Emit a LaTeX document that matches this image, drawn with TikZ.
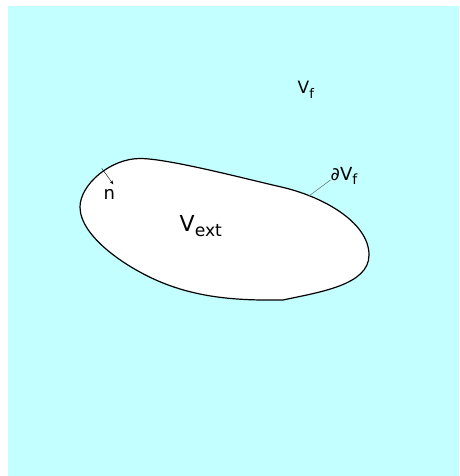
\documentclass[tikz,border=0pt]{standalone}
\usepackage{fontspec}
\setmainfont{DejaVu Sans}
\usetikzlibrary{arrows.meta}
\definecolor{fluid}{RGB}{196,255,255}
\newcommand{\subtxt}[1]{\raisebox{-0.25em}{\scalebox{0.78}{#1}}}

\begin{document}
\begin{tikzpicture}[x=1pt, y=-1pt,
    labeltext/.style={inner sep=0pt, anchor=base west},
    boundary/.style={line width=1.2pt, fill=white, line join=round},
    leader/.style={black!60, line width=0.5pt}]
    \useasboundingbox (0,0) rectangle (459,476);
    % Fluid region
    \fill[fluid] (8,6) rectangle (459,475.7);
    % Boundary of the body
    \draw[boundary] (283,300)
        .. controls (243,300.5) and (203,299) .. (163,283)
        .. controls (128,269) and (80,237) .. (80,207)
        .. controls (80,185) and (110,158.5) .. (140,158.5)
        .. controls (168,158.5) and (245,178.7) .. (280,186.7)
        .. controls (322,196) and (369,222) .. (369,255)
        .. controls (369,285) and (320,292) .. cycle;
    % Points on the boundary
    \coordinate (nfoot) at (101.7,168.3);
    \coordinate (ntip) at (113.3,184.3);
    \coordinate (dVfpt) at (309.3,195.7);
    % Labels
    \node[labeltext, font=\fontsize{17}{20}\selectfont] (Vf) at (297.5,94)
        {V\subtxt{f}};
    \node[labeltext, font=\fontsize{22}{26}\selectfont] (Vext) at (179.5,231)
        {V\subtxt{ext}};
    \node[labeltext, font=\fontsize{18}{21}\selectfont] (dVf) at (330.5,180)
        {∂V\subtxt{f}};
    \node[labeltext, font=\fontsize{18}{21}\selectfont] (n) at (103.5,199.3)
        {n};
    % Normal and leader
    \draw[-{Stealth[length=4pt, width=3pt]}, line width=0.4pt] (nfoot) -- (ntip);
    \draw[leader] (dVf.base west) -- (dVfpt);
\end{tikzpicture}
\end{document}
